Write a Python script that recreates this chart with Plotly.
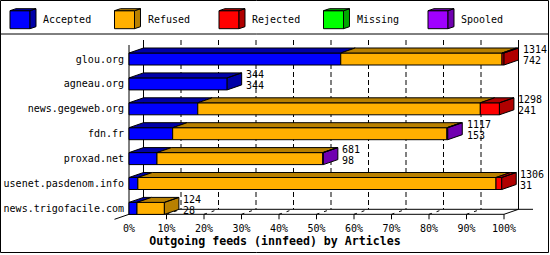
import plotly.graph_objects as go

# ---------------- data ----------------
hosts = ["glou.org", "agneau.org", "news.gegeweb.org", "fdn.fr",
         "proxad.net", "usenet.pasdenom.info", "news.trigofacile.com"]
accepted = [742, 344, 241, 153, 98, 31, 28]
refused = [565, 0, 990, 961, 581, 1255, 96]
rejected = [7, 0, 67, 0, 0, 20, 0]
missing = [0, 0, 0, 0, 0, 0, 0]
spooled = [0, 0, 0, 3, 2, 0, 0]
series_names = ["Accepted", "Refused", "Rejected", "Missing", "Spooled"]
x_ticks = [0, 10, 20, 30, 40, 50, 60, 70, 80, 90, 100]
x_tick_labels = [f"{t}%" for t in x_ticks]
title = "Outgoing feeds (innfeed) by Articles"

# ---------------- style ----------------
front_colors = ["#0000FF", "#FFB000", "#FF0000", "#00FF00", "#A000FF"]
dark_colors = ["#0000A8", "#B88000", "#B00000", "#00A800", "#7000B0"]
FONT = "DejaVu Sans Mono"
W, H = 550, 255
X0, PXPCT = 129.0, 3.75      # pixel of 0 %, pixels per percent
Y0, ROWPX = 59.0, 24.9       # pixel of first row centre, pixels per row
DXP, DYP = 14.5, -5.0        # 3-D depth offset in pixels
FLOOR_PX = 214.3
BAR_PX = 12.0

dx = DXP / PXPCT
dy = DYP / ROWPX
bw = BAR_PX / ROWPX


def vx(p):
    return (p - X0) / PXPCT


def vy(p):
    return (p - Y0) / ROWPX


def pxp(p):
    return p / W


def pyp(p):
    return 1 - p / H


values = [accepted, refused, rejected, missing, spooled]
n = len(hosts)
totals = [sum(v[i] for v in values) for i in range(n)]
scale = max(totals)

fig = go.Figure()

# front faces (bars) and 3-D faces
top_polys = {k: ([], []) for k in range(5)}
cum = [0.0] * n
last_series = [0] * n
for k, vals in enumerate(values):
    ys, xs, bases = [], [], []
    for i in range(n):
        if vals[i] <= 0:
            continue
        x0 = cum[i] / scale * 100
        w = vals[i] / scale * 100
        ys.append(i)
        xs.append(w)
        bases.append(x0)
        yt = i - bw / 2
        px, py = top_polys[k]
        px += [x0, x0 + w, x0 + w + dx, x0 + dx, x0, None]
        py += [yt, yt, yt + dy, yt + dy, yt, None]
        cum[i] += vals[i]
        last_series[i] = k
    fig.add_trace(go.Bar(
        y=ys, x=xs, base=bases, orientation="h", width=bw,
        marker=dict(color=front_colors[k], line=dict(color="black", width=1)),
        name=series_names[k], showlegend=False, hoverinfo="skip"))

for i in range(n):
    k = last_series[i]
    xe = totals[i] / scale * 100
    yt, yb = i - bw / 2, i + bw / 2
    px, py = top_polys[k]
    px += [xe, xe, xe + dx, xe + dx, xe, None]
    py += [yt, yb, yb + dy, yt + dy, yt, None]

for k in range(5):
    px, py = top_polys[k]
    if not px:
        continue
    fig.add_trace(go.Scatter(
        x=px, y=py, mode="lines", fill="toself", fillcolor=dark_colors[k],
        line=dict(color="black", width=1), showlegend=False, hoverinfo="skip"))

shapes = []
# back wall grid lines
wall_top = vy(45 + DYP)
floor_front = vy(FLOOR_PX)
floor_back = vy(FLOOR_PX + DYP)
for t in x_ticks:
    solid = t in (0, 100)
    shapes.append(dict(type="line", xref="x", yref="y", x0=t + dx, x1=t + dx,
                       y0=wall_top, y1=floor_back, layer="below",
                       line=dict(color="black", width=1,
                                 dash="solid" if solid else "5px,3px")))
# front left edge
shapes.append(dict(type="line", xref="x", yref="y", x0=0, x1=0,
                   y0=vy(45), y1=floor_front, layer="below",
                   line=dict(color="black", width=1)))
# floor
shapes.append(dict(type="line", xref="x", yref="y", x0=dx, x1=vx(533),
                   y0=floor_back, y1=floor_back, layer="below",
                   line=dict(color="black", width=1)))
shapes.append(dict(type="line", xref="x", yref="y", x0=0, x1=100,
                   y0=floor_front, y1=floor_front, layer="below",
                   line=dict(color="black", width=1)))
shapes.append(dict(type="line", xref="x", yref="y", x0=-dx, x1=0,
                   y0=floor_front - dy, y1=floor_front, layer="below",
                   line=dict(color="black", width=1)))
shapes.append(dict(type="line", xref="x", yref="y", x0=100, x1=100 + dx,
                   y0=floor_front, y1=floor_back, layer="below",
                   line=dict(color="black", width=1)))
for t in x_ticks[1:]:
    shapes.append(dict(type="line", xref="x", yref="y", x0=t, x1=t,
                       y0=floor_front, y1=vy(FLOOR_PX + 5), layer="below",
                       line=dict(color="black", width=1)))
    if t < 100:
        shapes.append(dict(type="line", xref="x", yref="y", x0=t, x1=t + dx,
                           y0=floor_front, y1=floor_back, layer="below",
                           line=dict(color="black", width=1, dash="3px,5px")))

# frame and legend separator
shapes.append(dict(type="rect", xref="paper", yref="paper",
                   x0=pxp(0.5), x1=pxp(548.5), y0=pyp(0.5), y1=pyp(252.5),
                   line=dict(color="black", width=1)))
shapes.append(dict(type="line", xref="paper", yref="paper",
                   x0=pxp(0.5), x1=pxp(548.5), y0=pyp(34), y1=pyp(34),
                   line=dict(color="black", width=1)))

annotations = []
# legend cubes
leg_x = [10, 114.5, 219, 323.5, 428]
for k, name in enumerate(series_names):
    L = leg_x[k]
    T, B = 10.7, 28.7
    cdx, cdy = 6, -2
    shapes.append(dict(type="rect", xref="paper", yref="paper",
                       x0=pxp(L), x1=pxp(L + 20), y0=pyp(T), y1=pyp(B),
                       fillcolor=front_colors[k], line=dict(color="black", width=1)))
    side = [(L + 20, T), (L + 20 + cdx, T + cdy), (L + 20 + cdx, B + cdy), (L + 20, B)]
    top = [(L, T), (L + cdx, T + cdy), (L + 20 + cdx, T + cdy), (L + 20, T)]
    for poly in (side, top):
        path = "M " + " L ".join(f"{pxp(a):.5f},{pyp(b):.5f}" for a, b in poly) + " Z"
        shapes.append(dict(type="path", xref="paper", yref="paper", path=path,
                           fillcolor=dark_colors[k], line=dict(color="black", width=1)))
    annotations.append(dict(xref="paper", yref="paper", x=pxp(L + 31), y=pyp(20),
                            text=name, showarrow=False, xanchor="left", yanchor="middle",
                            font=dict(family=FONT, size=10, color="black")))

# value labels
for i in range(n):
    xe = totals[i] / scale * 100 + dx + 0.6
    annotations.append(dict(x=xe, y=i - 0.37, text=str(totals[i]), showarrow=False,
                            xanchor="left", yanchor="middle",
                            font=dict(family=FONT, size=10, color="black")))
    annotations.append(dict(x=xe, y=i + 0.07, text=str(accepted[i]), showarrow=False,
                            xanchor="left", yanchor="middle",
                            font=dict(family=FONT, size=10, color="black")))

fig.update_layout(
    width=W, height=H, margin=dict(l=0, r=0, t=0, b=0),
    paper_bgcolor="white", plot_bgcolor="white",
    barmode="overlay", showlegend=False,
    shapes=shapes, annotations=annotations,
    xaxis=dict(range=[vx(0), vx(W)], domain=[0, 1], anchor="free",
               position=pyp(FLOOR_PX), showgrid=False, zeroline=False,
               showline=False, tickvals=x_ticks, ticktext=x_tick_labels,
               ticks="outside", ticklen=5, tickcolor="rgba(0,0,0,0)",
               tickfont=dict(family=FONT, size=10, color="black"),
               title=dict(text=f"<b>{title}</b>", standoff=2,
                          font=dict(family=FONT, size=11.6, color="black"))),
    yaxis=dict(range=[vy(H), vy(0)], domain=[0, 1], anchor="free",
               position=pxp(X0), showgrid=False, zeroline=False, showline=False,
               tickvals=list(range(n)), ticktext=hosts,
               ticks="outside", ticklen=3, tickcolor="rgba(0,0,0,0)",
               tickfont=dict(family=FONT, size=10, color="black")),
)

fig.write_html("out.html")
